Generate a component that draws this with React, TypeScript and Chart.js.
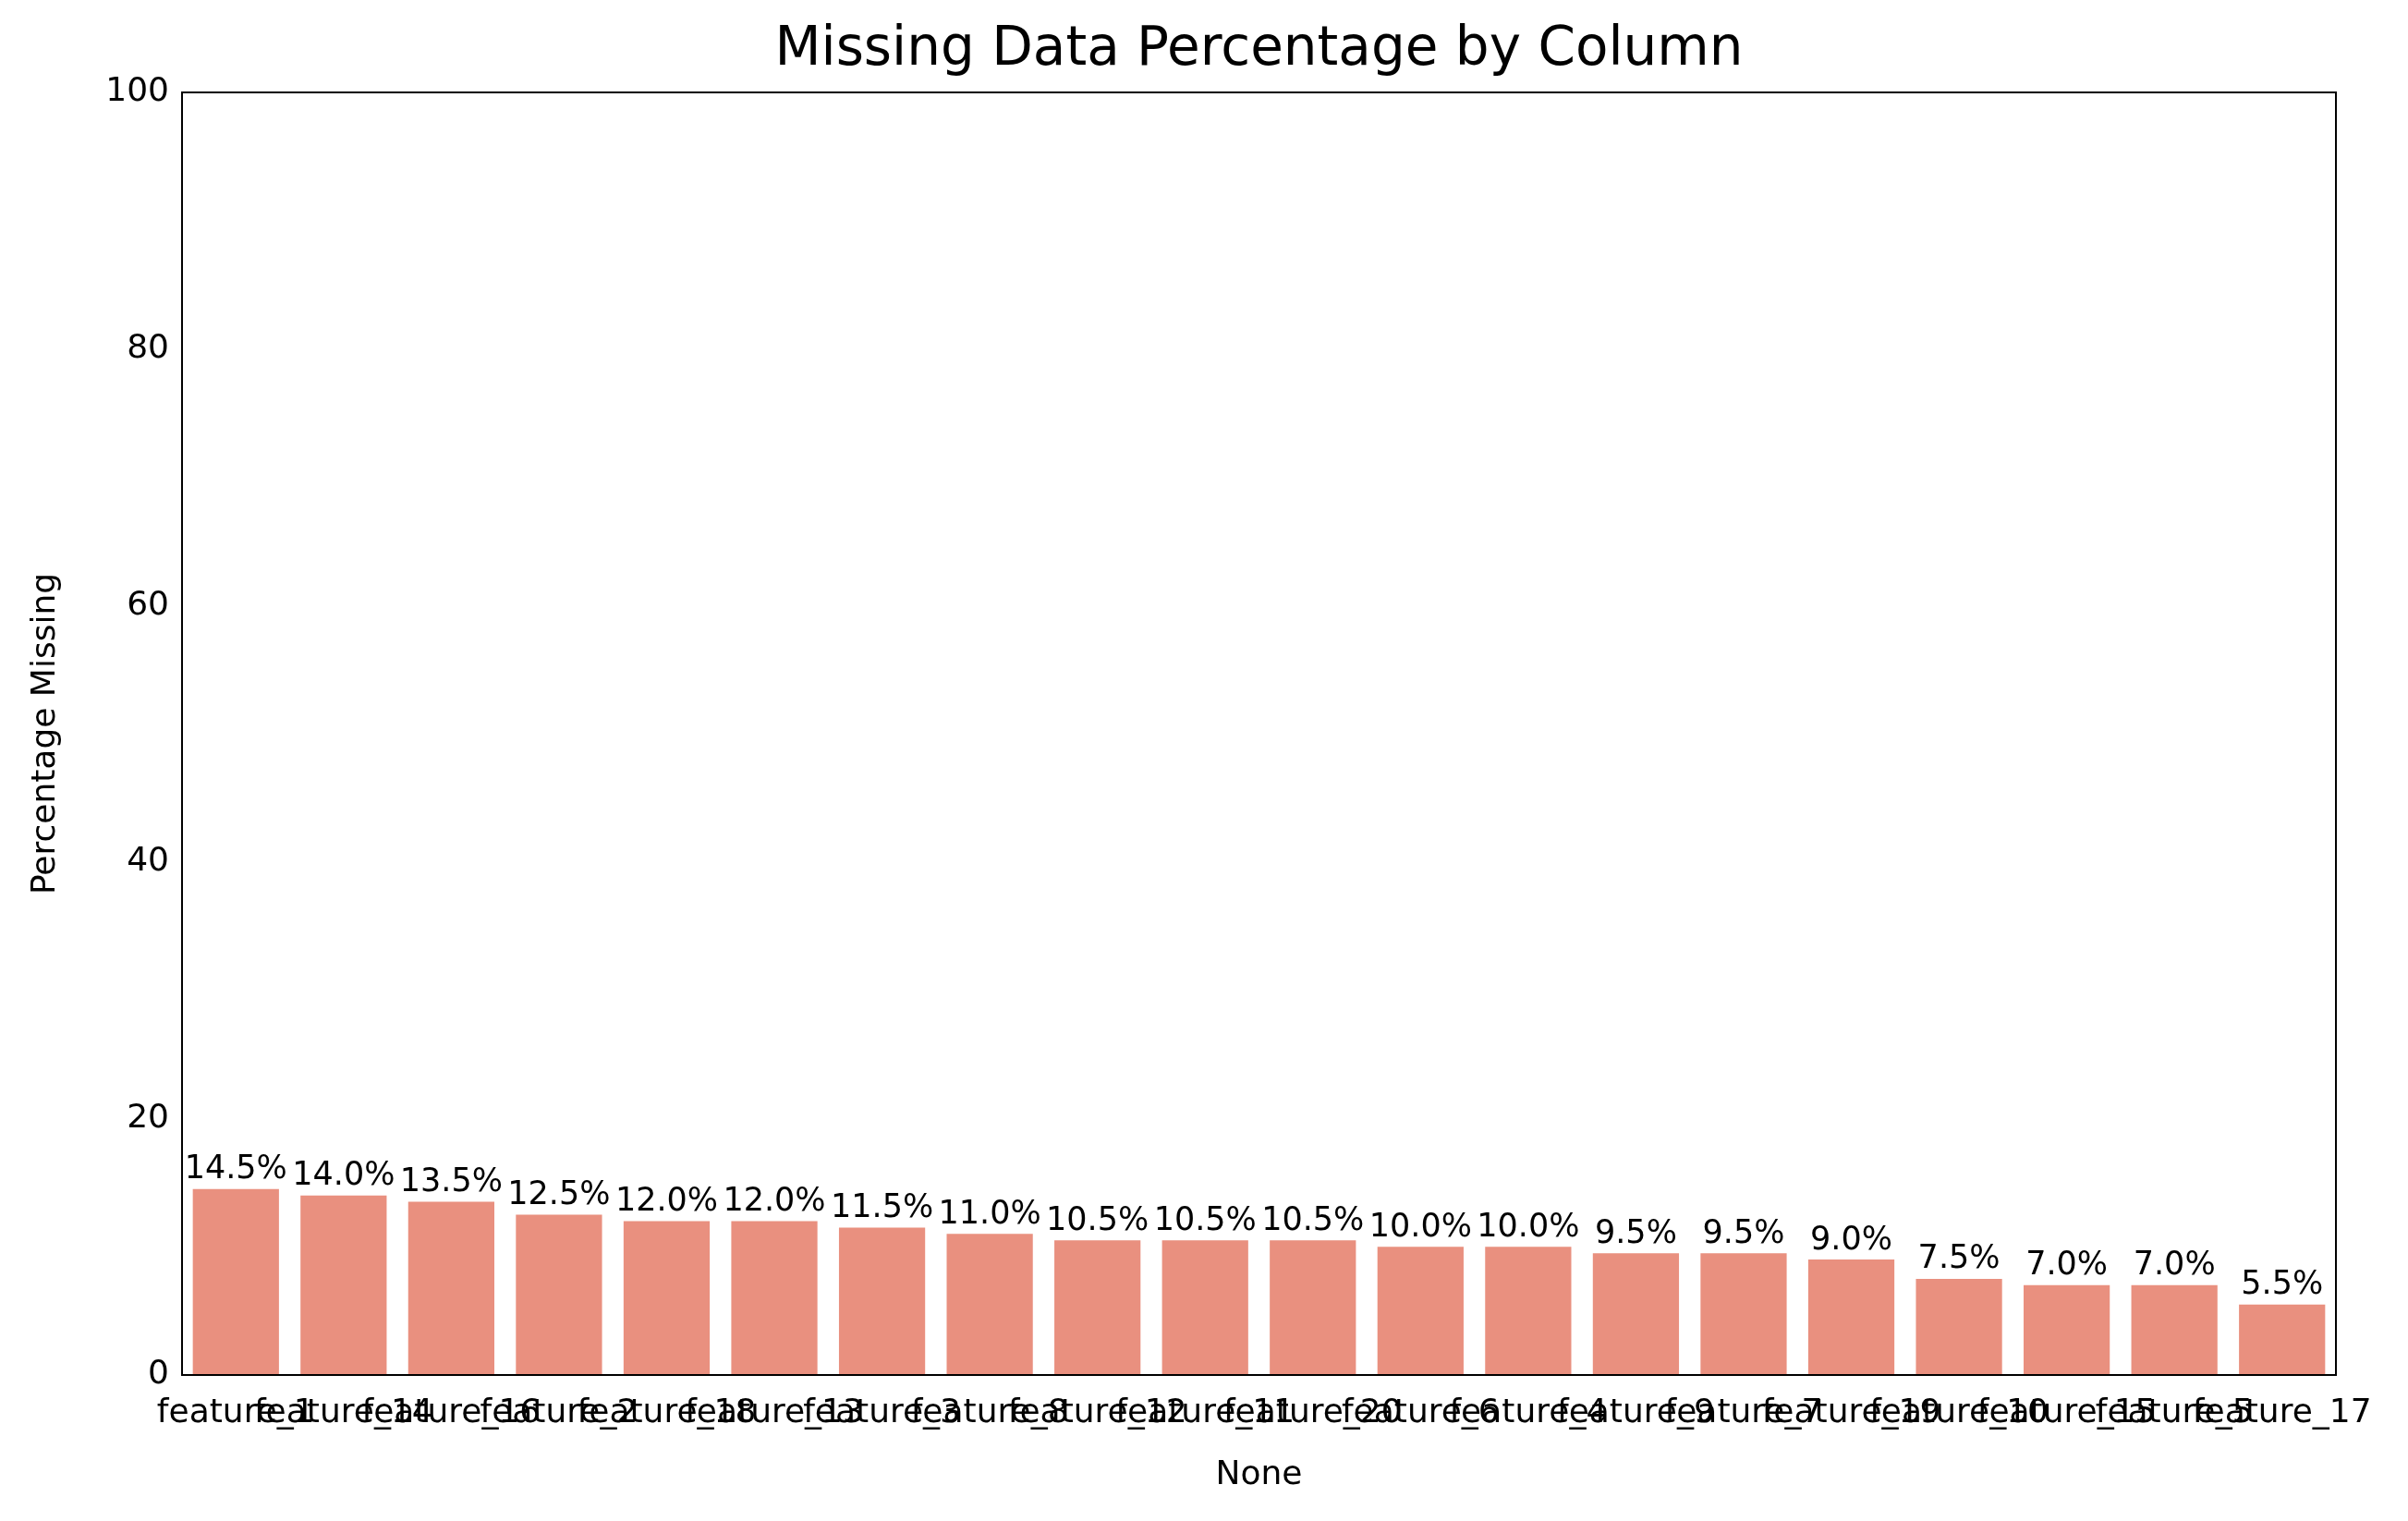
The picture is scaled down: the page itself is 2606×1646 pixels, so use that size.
import React, { useEffect, useRef } from "react";
import { Chart, registerables } from "chart.js";
Chart.register(...registerables);

const categories = ["feature_1","feature_14","feature_16","feature_2","feature_18","feature_13","feature_3","feature_8","feature_12","feature_11","feature_20","feature_6","feature_4","feature_9","feature_7","feature_19","feature_10","feature_15","feature_5","feature_17"];
const values = [14.5,14.0,13.5,12.5,12.0,12.0,11.5,11.0,10.5,10.5,10.5,10.0,10.0,9.5,9.5,9.0,7.5,7.0,7.0,5.5];
const yTicks = [0,20,40,60,80,100];

const FONT = "'DejaVu Sans', sans-serif";

export default function App() {
  const ref = useRef<HTMLCanvasElement>(null);
  useEffect(() => {
    document.body.style.margin = "0";
    const labelsPlugin = {
      id: "extras",
      afterDatasetsDraw(chart: any) {
        const ctx = chart.ctx;
        const meta = chart.getDatasetMeta(0);
        ctx.save();
        ctx.fillStyle = "#000";
        ctx.font = `35px ${FONT}`;
        ctx.textAlign = "center";
        ctx.textBaseline = "bottom";
        meta.data.forEach((bar: any, i: number) => {
          ctx.fillText(values[i].toFixed(1) + "%", bar.x, bar.y - 3);
        });
        const ca = chart.chartArea;
        ctx.font = `58px ${FONT}`;
        ctx.textBaseline = "middle";
        ctx.fillText("Missing Data Percentage by Column", (ca.left + ca.right) / 2, 55);
        ctx.font = `36px ${FONT}`;
        ctx.fillText("None", (ca.left + ca.right) / 2, 1597);
        ctx.translate(50, (ca.top + ca.bottom) / 2);
        ctx.rotate(-Math.PI / 2);
        ctx.fillText("Percentage Missing", 0, 0);
        ctx.restore();
      },
    };
    const chart = new Chart(ref.current!, {
      type: "bar",
      data: {
        labels: categories,
        datasets: [{ data: values, backgroundColor: "#E9907F", categoryPercentage: 1, barPercentage: 0.8 }],
      },
      options: {
        animation: false,
        responsive: false,
        layout: { padding: { top: 100, right: 78, left: 0, bottom: 0 } },
        plugins: { legend: { display: false }, title: { display: false }, tooltip: { enabled: false } },
        scales: {
          x: {
            grid: { display: false, drawTicks: true, tickLength: 12, color: "#000" },
            border: { color: "#000", width: 2 },
            ticks: { color: "#000", font: { family: FONT, size: 36 }, maxRotation: 0, minRotation: 0, autoSkip: false, padding: 8 },
            afterFit: (a: any) => { a.height = 158; },
          },
          y: {
            min: 0, max: 100,
            afterBuildTicks: (a: any) => { a.ticks = yTicks.map(v => ({ value: v })); },
            grid: { display: false, drawTicks: true, tickLength: 12, color: "#000" },
            border: { color: "#000", width: 2 },
            ticks: { color: "#000", font: { family: FONT, size: 36 }, padding: 2 },
            afterFit: (a: any) => { a.width = 197; },
          },
        },
      },
      plugins: [labelsPlugin, {
        id: "frame",
        afterDraw(chart: any) {
          const { ctx, chartArea: ca } = chart;
          ctx.save();
          ctx.strokeStyle = "#000";
          ctx.lineWidth = 2;
          ctx.strokeRect(ca.left, ca.top, ca.right - ca.left, ca.bottom - ca.top);
          ctx.restore();
        },
      }],
    });
    return () => chart.destroy();
  }, []);
  return <canvas ref={ref} width={2606} height={1646} style={{ display: "block", width: 2606, height: 1646 }} />;
}
